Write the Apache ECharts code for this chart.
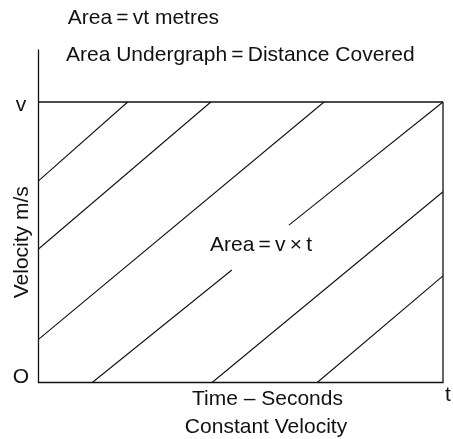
<!DOCTYPE html>
<html>
<head>
<meta charset="utf-8">
<script src="https://cdn.jsdelivr.net/npm/echarts@6/dist/echarts.min.js"></script>
<style>
  html, body { margin: 0; padding: 0; background: #fff; }
  #main { width: 453px; height: 439px; }
</style>
</head>
<body>
<div id="main"></div>
<script>
// time runs 0..t, velocity 0..v (both as fractions of the box)
var tMax = 1;
var vMax = 1;
var yAxisTop = 1.1854; // y axis line runs on above v

// the rectangle under the graph: top edge at v, right edge at t
var boxTop = [[0, 1], [1, 1]];
var boxRight = [[1, 0], [1, 1]];

// hatch lines (start, end); the 4th one is broken round the label
var hatchFrom = [[0, 0.719], [0, 0.476], [0, 0.154], [0.133, 0], [0.619, 0.561], [0.429, 0], [0.689, 0]];
var hatchTo = [[0.2205, 1], [0.426, 1], [0.706, 1], [0.478, 0.401], [1, 1], [1, 0.680], [1, 0.380]];

// axis marks
var yTickValues = [0, 1];
var yTickText = ['O', 'v'];
var xTickValues = [1];
var xTickText = ['t'];

var FONT = '"Liberation Sans", Arial, Helvetica, sans-serif';
var INK = '#111';

var chart = echarts.init(document.getElementById('main'), null, { renderer: 'canvas' });

var series = [];
function addSegment(a, b, w) {
    series.push({
        type: 'line',
        data: [a, b],
        symbol: 'none',
        silent: true,
        clip: false,
        lineStyle: { color: INK, width: w }
    });
}
addSegment(boxTop[0], boxTop[1], 1.3);
addSegment(boxRight[0], boxRight[1], 1.3);
for (var i = 0; i < hatchFrom.length; i++) {
    addSegment(hatchFrom[i], hatchTo[i], 1.1);
}

chart.setOption({
    animation: false,
    grid: { left: 38.5, right: 10, top: 50, bottom: 56.5 },
    xAxis: {
        type: 'value', min: 0, max: tMax,
        axisLine: { show: true, lineStyle: { color: INK, width: 1.3 } },
        axisTick: { show: false }, axisLabel: { show: false }, splitLine: { show: false }
    },
    yAxis: {
        type: 'value', min: 0, max: yAxisTop,
        axisLine: { show: true, lineStyle: { color: INK, width: 1.3 } },
        axisTick: { show: false }, axisLabel: { show: false }, splitLine: { show: false }
    },
    series: series
});

function px(p) { return chart.convertToPixel({ gridIndex: 0 }, p); }
function txt(x, y, s, align, rot) {
    return {
        type: 'text', x: x, y: y, rotation: rot || 0, silent: true,
        style: { text: s, fill: INK, font: '21px ' + FONT, align: align || 'center', verticalAlign: 'middle' }
    };
}

var g = [];
// tick marks O and v sit left of the y axis
var yDy = [-5, 3];
for (var k = 0; k < yTickValues.length; k++) {
    var p = px([0, yTickValues[k]]);
    g.push(txt(p[0] - 17.5, p[1] + yDy[k], yTickText[k]));
}
for (var j = 0; j < xTickValues.length; j++) {
    var q = px([xTickValues[j], 0]);
    g.push(txt(q[0] + 5, q[1] + 12.5, xTickText[j]));
}

var mid = px([0, 0.5]);
g.push(txt(mid[0] - 16, mid[1], 'Velocity m/s', 'center', Math.PI / 2));

var inside = px([0.55, 0.488]);
g.push(txt(inside[0], inside[1], 'Area\u2009=\u2009v\u2009×\u2009t'));

g.push(txt(67.7, 18, 'Area\u2009=\u2009vt metres', 'left'));
g.push(txt(66, 55, 'Area Undergraph\u2009=\u2009Distance Covered', 'left'));
g.push(txt(267.5, 399.7, 'Time – Seconds'));
g.push(txt(266, 427.7, 'Constant Velocity'));

chart.setOption({ graphic: g });
</script>
</body>
</html>
